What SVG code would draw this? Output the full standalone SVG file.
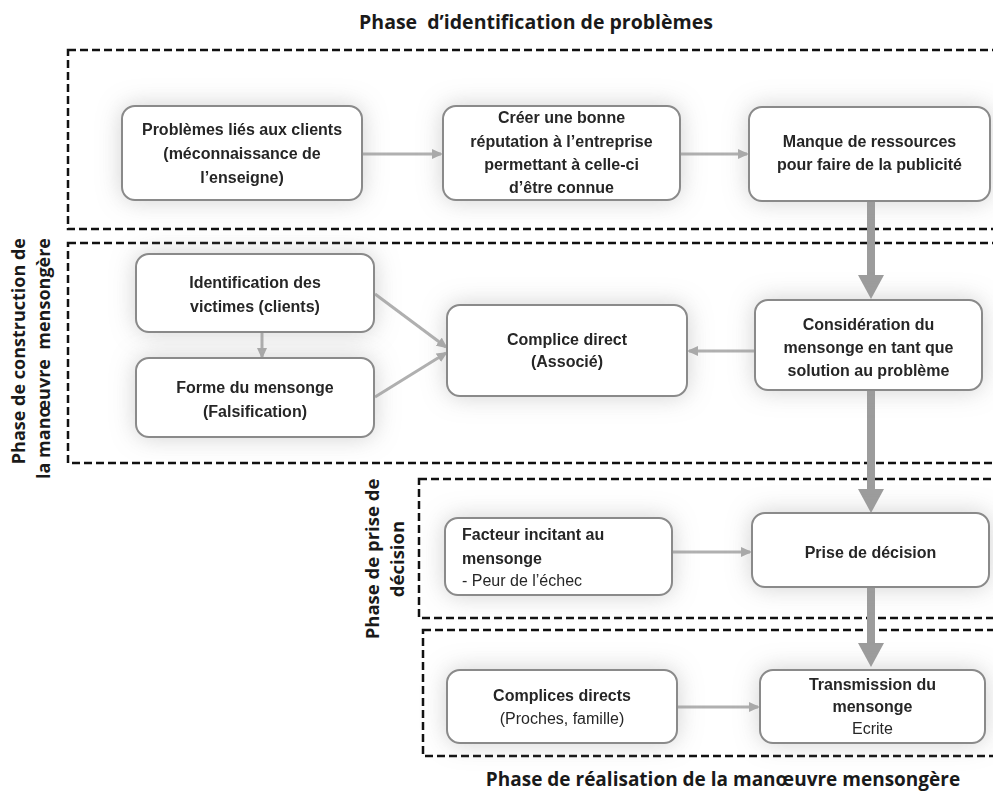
<svg xmlns="http://www.w3.org/2000/svg" width="993" height="792" viewBox="0 0 993 792">
<defs>
<filter id="glow" x="-30%" y="-60%" width="160%" height="220%">
<feGaussianBlur in="SourceAlpha" stdDeviation="12" result="b"/>
<feFlood flood-color="#9a9a9a" flood-opacity="0.45"/>
<feComposite in2="b" operator="in" result="s"/>
<feMerge><feMergeNode in="s"/><feMergeNode in="SourceGraphic"/></feMerge>
</filter>
<marker id="ah" markerUnits="userSpaceOnUse" markerWidth="11" markerHeight="10" refX="9" refY="5" orient="auto">
<path d="M0,0 L11,5 L0,10 z" fill="#ababab"/>
</marker>
<marker id="big" markerUnits="userSpaceOnUse" markerWidth="24" markerHeight="28" refX="0" refY="14" orient="auto">
<path d="M0,1 L24,14 L0,27 z" fill="#9c9c9c"/>
</marker>
</defs>
<style>
.box{fill:#fff;stroke:#8a8a8a;stroke-width:2}
.zone{fill:none;stroke:#111;stroke-width:2.5;stroke-dasharray:8 4}
.t{font-family:"Liberation Sans",Arial,sans-serif;font-size:16px;font-weight:bold;fill:#262626;text-anchor:middle}
.l{text-anchor:start}
.r{font-weight:normal}
.h{font-family:"Open Sans","Liberation Sans",sans-serif;font-weight:bold;fill:#1a1a1a}
.thin{stroke:#b0b0b0;stroke-width:3;fill:none;marker-end:url(#ah)}
.thick{stroke:#9c9c9c;stroke-width:8;fill:none;marker-end:url(#big)}
</style>
<rect width="993" height="792" fill="#fff"/>

<g id="zones">
<rect class="zone" x="68" y="50" width="940" height="179"/>
<rect class="zone" x="68" y="243" width="940" height="220"/>
<rect class="zone" x="419" y="479" width="590" height="139"/>
<rect class="zone" x="423" y="630" width="590" height="126"/>
</g>

<g id="labels">
<text class="h" x="536" y="29" font-size="19.5" text-anchor="middle" xml:space="preserve">Phase  d’identification de problèmes</text>
<text class="h" x="723" y="786" font-size="19" text-anchor="middle">Phase de réalisation de la manœuvre mensongère</text>
<text class="h" font-size="18" text-anchor="end" transform="translate(25,238) rotate(-90)">Phase de construction de</text>
<text class="h" font-size="18" text-anchor="end" transform="translate(50,238) rotate(-90)" xml:space="preserve">la manœuvre  mensongère</text>
<text class="h" font-size="18.5" text-anchor="middle" transform="translate(379,559) rotate(-90)">Phase de prise de</text>
<text class="h" font-size="18.5" text-anchor="middle" transform="translate(404,559) rotate(-90)">décision</text>
</g>

<g id="connectors">
<line class="thin" x1="362" y1="154" x2="441" y2="154"/>
<line class="thin" x1="680" y1="154" x2="747" y2="154"/>
<line class="thin" x1="755" y1="351" x2="689" y2="351"/>
<line class="thin" x1="262" y1="332" x2="262" y2="357"/>
<line class="thin" x1="375" y1="294" x2="446" y2="347"/>
<line class="thin" x1="375" y1="397" x2="446" y2="353"/>
<line class="thin" x1="672" y1="552" x2="750" y2="552"/>
<line class="thin" x1="677" y1="707" x2="758" y2="707"/>
<line class="thick" x1="871" y1="201" x2="871" y2="275"/>
<line class="thick" x1="871" y1="390" x2="871" y2="489"/>
<line class="thick" x1="871" y1="587" x2="871" y2="643"/>
</g>

<g id="n1" filter="url(#glow)">
<rect class="box" x="122" y="106" width="240" height="94" rx="13"/>
<text class="t" x="242" y="135">Problèmes liés aux clients</text>
<text class="t" x="242" y="159">(méconnaissance de</text>
<text class="t" x="242" y="183">l’enseigne)</text>
</g>
<g id="n2" filter="url(#glow)">
<rect class="box" x="443" y="106" width="237" height="94" rx="13"/>
<text class="t" x="561.5" y="123">Créer une bonne</text>
<text class="t" x="561.5" y="147">réputation à l’entreprise</text>
<text class="t" x="561.5" y="170">permettant à celle-ci</text>
<text class="t" x="561.5" y="193">d’être connue</text>
</g>
<g id="n3" filter="url(#glow)">
<rect class="box" x="749" y="107" width="241" height="94" rx="13"/>
<text class="t" x="869.5" y="147">Manque de ressources</text>
<text class="t" x="869.5" y="170">pour faire de la publicité</text>
</g>
<g id="n4" filter="url(#glow)">
<rect class="box" x="136" y="254" width="238" height="78" rx="13"/>
<text class="t" x="255" y="288">Identification des</text>
<text class="t" x="255" y="312">victimes (clients)</text>
</g>
<g id="n5" filter="url(#glow)">
<rect class="box" x="136" y="358" width="238" height="79" rx="13"/>
<text class="t" x="255" y="393">Forme du mensonge</text>
<text class="t" x="255" y="417">(Falsification)</text>
</g>
<g id="n6" filter="url(#glow)">
<rect class="box" x="447" y="305" width="240" height="91" rx="13"/>
<text class="t" x="567" y="345">Complice direct</text>
<text class="t" x="567" y="367">(Associé)</text>
</g>
<g id="n7" filter="url(#glow)">
<rect class="box" x="755" y="300" width="227" height="90" rx="13"/>
<text class="t" x="868.5" y="330">Considération du</text>
<text class="t" x="868.5" y="353">mensonge en tant que</text>
<text class="t" x="868.5" y="376">solution au problème</text>
</g>
<g id="n8" filter="url(#glow)">
<rect class="box" x="445" y="518" width="227" height="77" rx="13"/>
<text class="t l" x="462" y="540">Facteur incitant au</text>
<text class="t l" x="462" y="564">mensonge</text>
<text class="t l r" x="462" y="586">- Peur de l’échec</text>
</g>
<g id="n9" filter="url(#glow)">
<rect class="box" x="752" y="513" width="237" height="74" rx="13"/>
<text class="t" x="870.5" y="558">Prise de décision</text>
</g>
<g id="n10" filter="url(#glow)">
<rect class="box" x="447" y="670" width="230" height="73" rx="13"/>
<text class="t" x="562" y="701">Complices directs</text>
<text class="t r" x="562" y="724">(Proches, famille)</text>
</g>
<g id="n11" filter="url(#glow)">
<rect class="box" x="760" y="670" width="225" height="73" rx="13"/>
<text class="t" x="872.5" y="690">Transmission du</text>
<text class="t" x="872.5" y="712">mensonge</text>
<text class="t r" x="872.5" y="734">Ecrite</text>
</g>
</svg>
